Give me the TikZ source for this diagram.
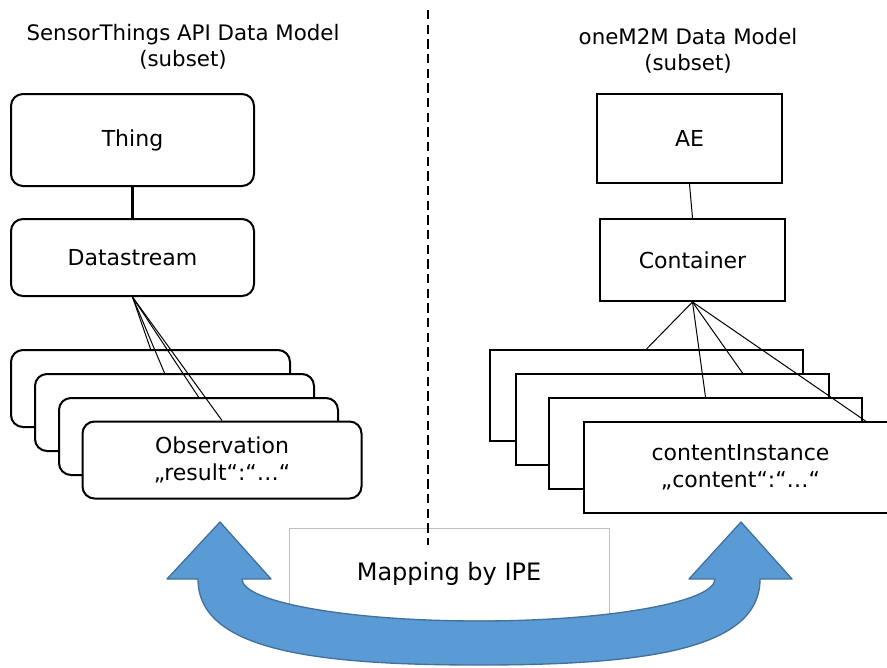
\documentclass[tikz,border=0pt]{standalone}
\usepackage{fontspec}
\setmainfont{DejaVu Sans}
\usepackage{xcolor}
\usetikzlibrary{calc,positioning}
\definecolor{arrowblue}{HTML}{5B9BD5}
\definecolor{arrowedge}{HTML}{41719C}
\tikzset{
    roundbox/.style={draw, line width=1.5pt, rounded corners=9pt, fill=white,
        minimum width=182.25pt, align=center, font=\fontsize{16.5}{20}\selectfont},
    obsbox/.style={roundbox, minimum width=209.25pt, minimum height=57.75pt},
    sqbox/.style={draw, line width=1.5pt, fill=white, minimum width=138.75pt,
        align=center, font=\fontsize{16.5}{20}\selectfont},
    cibox/.style={sqbox, minimum width=234.75pt, minimum height=68.25pt},
    titletext/.style={align=center, font=\fontsize{16}{19.5}\selectfont},
    thinline/.style={line width=0.75pt}
}

\begin{document}
\begin{tikzpicture}[x=0.75pt, y=-0.75pt]
    \clip (0,0) rectangle (887,667);
    \useasboundingbox (0,0) rectangle (887,667);

    % titles
    \node[titletext] (lefttitle) at (183,47) {SensorThings API Data Model\\(subset)};
    \node[titletext] (righttitle) at (688,51) {oneM2M Data Model\\(subset)};

    % SensorThings side
    \node[roundbox, minimum height=69pt] (thing) at (132.5,140) {Thing};
    \node[roundbox, minimum height=57.75pt] (dstream) at (132.5,257.5) {Datastream};
    \draw[line width=2.25pt] (thing) -- (dstream);

    \node[obsbox] (obs1) at (150.5,388.5) {};
    \node[obsbox] (obs2) at (174.5,412.5) {};
    \node[obsbox] (obs3) at (198.5,436.5) {};
    \node[obsbox] (obs4) at (222,460) {Observation\\„result“:“…“};
    \draw[thinline] (dstream.south) -- (obs1.north);
    \draw[thinline] (dstream.south) -- ($(obs2.north)+(-10,0)$);
    \draw[thinline] (dstream.south) -- (obs3.north);
    \draw[thinline] (dstream.south) -- (obs4.north);

    % oneM2M side
    \node[sqbox, minimum height=66.75pt] (ae) at (689.5,138.5) {AE};
    \node[sqbox, minimum height=61.5pt] (cont) at (692.5,260) {Container};
    \draw[thinline] (ae.south) -- (cont.north);

    \node[cibox] (ci1) at (646.5,395.5) {};
    \node[cibox] (ci2) at (672.5,419.5) {};
    \node[cibox] (ci3) at (705.5,443.5) {};
    \node[cibox] (ci4) at (740.5,467.5) {contentInstance\\„content“:“…“};
    \draw[thinline] (cont.south) -- (ci1.north);
    \draw[thinline] (cont.south) -- ($(ci2.north)+(70,0)$);
    \draw[thinline] (cont.south) -- (ci3.north);
    \draw[thinline] (cont.south) -- ($(ci4.north)+(125,0)$);

    % mapping
    \node[draw=black!25, line width=0.75pt, fill=white, minimum width=240pt,
        minimum height=69pt, font=\fontsize{18}{22}\selectfont] (mapping) at (449,574) {Mapping by IPE};
    \draw[line width=1.5pt, dash pattern=on 7pt off 4pt] (428,10) coordinate (divtop) -- (428,545) coordinate (divbottom);

    % double arrow
    \draw[fill=arrowblue, draw=arrowedge, line width=1pt, line join=round]
        (198,579) .. controls (198,649) and (310,665) .. (479,665)
        .. controls (648,665) and (760,649) .. (760,579)
        -- (792,579) -- (741,522) -- (689,579) -- (715,579)
        .. controls (715,602) and (609,621) .. (479,621)
        .. controls (348,621) and (242,602) .. (242,579)
        -- (271,579) -- (220,522) -- (167,579) -- cycle;
\end{tikzpicture}
\end{document}
